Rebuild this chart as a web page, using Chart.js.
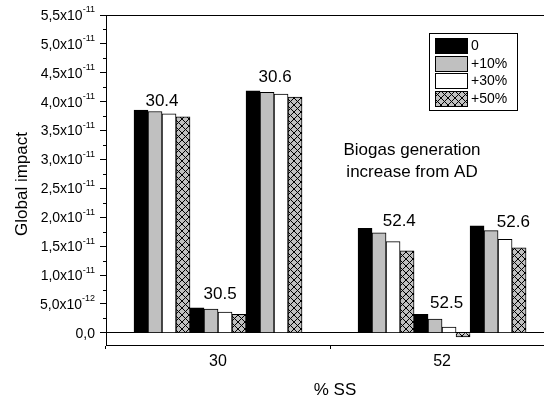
<!DOCTYPE html>
<html>
<head>
<meta charset="utf-8">
<script src="https://cdn.jsdelivr.net/npm/chart.js@4/dist/chart.umd.min.js"></script>
<style>
html,body{margin:0;padding:0;background:#fff;overflow:hidden;width:544px;height:399px;}
canvas{display:block;}
</style>
</head>
<body>
<canvas id="c" width="550" height="399"></canvas>
<script>
// ---- data ----
const groupNames = ['30.4', '30.5', '30.6', '52.4', '52.5', '52.6'];
const groupX = [24.5, 30, 35.5, 46.5, 52, 57.5];
const seriesNames = ['0', '+10%', '+30%', '+50%'];
const s0  = [3.856e-11, 0.433e-11, 4.19e-11, 1.81e-11, 0.32e-11, 1.85e-11];
const s10 = [3.83e-11, 0.41e-11, 4.16e-11, 1.73e-11, 0.24e-11, 1.77e-11];
const s30 = [3.79e-11, 0.36e-11, 4.13e-11, 1.58e-11, 0.10e-11, 1.62e-11];
const s50 = [3.74e-11, 0.32e-11, 4.08e-11, 1.42e-11, -0.07e-11, 1.47e-11];
const xTickValues = [30, 52];
const xTickLabels = ['30', '52'];
const yTickValues = [0, 5e-12, 1e-11, 1.5e-11, 2e-11, 2.5e-11, 3e-11, 3.5e-11, 4e-11, 4.5e-11, 5e-11, 5.5e-11];
const yTickBase = ['0,0', '5,0x10', '1,0x10', '1,5x10', '2,0x10', '2,5x10',
                   '3,0x10', '3,5x10', '4,0x10', '4,5x10', '5,0x10', '5,5x10'];
const yTickExp = ['', '-12', '-11', '-11', '-11', '-11', '-11', '-11', '-11', '-11', '-11', '-11'];
const noteLines = ['Biogas generation', 'increase from AD'];
const xTitle = '% SS';
const yTitle = 'Global impact';

// ---- annotation placement (data coordinates) ----
const groupLabelPos = [
  {x: 24.5, y: 4.011e-11}, {x: 30.2, y: 0.661e-11}, {x: 35.6, y: 4.418e-11},
  {x: 47.8, y: 1.934e-11}, {x: 52.45, y: 0.514e-11}, {x: 59.0, y: 1.908e-11}
];
const notePos = [{x: 49.05, y: 3.163e-11}, {x: 49.05, y: 2.782e-11}];

const FONT = "'Liberation Sans', Arial, Helvetica, sans-serif";

function makeHatch() {
  const n = 7;
  const c = document.createElement('canvas'); c.width = n; c.height = n;
  const g = c.getContext('2d');
  g.fillStyle = '#c0c0c0'; g.fillRect(0, 0, n, n);
  g.strokeStyle = '#000'; g.lineWidth = 1;
  g.beginPath();
  g.moveTo(0, 0); g.lineTo(n, n);
  g.moveTo(n, 0); g.lineTo(0, n);
  g.stroke();
  return g.createPattern(c, 'repeat');
}
const hatch = makeHatch();
const fills = ['#000000', '#c0c0c0', '#ffffff', hatch];
const seriesValues = [s0, s10, s30, s50];

const datasets = seriesNames.map((name, k) => ({
  label: name,
  data: groupX.map((x, i) => ({x: x, y: seriesValues[k][i]})),
  backgroundColor: fills[k],
  borderColor: '#000',
  borderWidth: 1,
  categoryPercentage: 1.0,
  barPercentage: 1.0
}));

const extras = {
  id: 'extras',
  afterDraw(chart) {
    const ctx = chart.ctx;
    const xs = chart.scales.x, ys = chart.scales.y;
    const a = chart.chartArea;
    ctx.save();
    ctx.strokeStyle = '#000';
    ctx.lineWidth = 1;
    // top frame line
    ctx.beginPath();
    ctx.moveTo(a.left, Math.round(a.top) + 0.5);
    ctx.lineTo(a.right, Math.round(a.top) + 0.5);
    ctx.stroke();
    // minor y ticks
    ctx.beginPath();
    for (let i = 0; i < yTickValues.length - 1; i++) {
      const v = (yTickValues[i] + yTickValues[i + 1]) / 2;
      const py = Math.round(ys.getPixelForValue(v)) + 0.5;
      ctx.moveTo(a.left - 3, py); ctx.lineTo(a.left, py);
    }
    ctx.stroke();
    ctx.fillStyle = '#000';
    // y tick labels with superscript exponents
    ctx.textBaseline = 'middle';
    yTickValues.forEach((v, i) => {
      const py = ys.getPixelForValue(v);
      const right = a.left - 11;
      ctx.font = '9px ' + FONT;
      const ew = yTickExp[i] ? ctx.measureText(yTickExp[i]).width : 0;
      ctx.textAlign = 'left';
      if (yTickExp[i]) ctx.fillText(yTickExp[i], right - ew, py - 5);
      ctx.font = '14px ' + FONT;
      ctx.textAlign = 'right';
      ctx.fillText(yTickBase[i], right - ew, py + 1);
    });
    // axis titles
    ctx.font = '17px ' + FONT;
    ctx.textAlign = 'center';
    ctx.fillText(xTitle, (a.left + 544) / 2 + 10, 390);
    ctx.save();
    ctx.translate(22, (a.top + a.bottom) / 2 + 4);
    ctx.rotate(-Math.PI / 2);
    ctx.fillText(yTitle, 0, 0);
    ctx.restore();
    // group labels
    ctx.font = '17px ' + FONT;
    ctx.textAlign = 'center';
    ctx.textBaseline = 'middle';
    groupNames.forEach((t, i) => {
      ctx.fillText(t, xs.getPixelForValue(groupLabelPos[i].x), ys.getPixelForValue(groupLabelPos[i].y));
    });
    // note text
    noteLines.forEach((t, i) => {
      ctx.fillText(t, xs.getPixelForValue(notePos[i].x), ys.getPixelForValue(notePos[i].y));
    });
    // legend
    const lx = 429, ly = a.top + 18;
    ctx.fillStyle = '#fff';
    ctx.fillRect(lx, ly, 88, 77);
    ctx.strokeRect(lx + 0.5, ly + 0.5, 88, 77);
    ctx.font = '14px ' + FONT;
    ctx.textAlign = 'left';
    chart.data.datasets.forEach((ds, k) => {
      const sy = Math.round(ly + 5 + k * 17.7);
      ctx.fillStyle = ds.backgroundColor;
      ctx.fillRect(lx + 6, sy, 32, 15);
      ctx.strokeRect(lx + 6.5, sy + 0.5, 32, 15);
      ctx.fillStyle = '#000';
      ctx.fillText(ds.label, lx + 42, sy + 8);
    });
    ctx.restore();
  }
};

new Chart(document.getElementById('c'), {
  type: 'bar',
  data: {datasets: datasets},
  options: {
    responsive: false,
    animation: false,
    devicePixelRatio: 1,
    layout: {padding: {left: 0, top: 15, right: 0, bottom: 0}},
    plugins: {legend: {display: false}, tooltip: {enabled: false}},
    scales: {
      x: {
        type: 'linear',
        min: 19,
        max: 62.6,
        offset: false,
        afterBuildTicks(s) { s.ticks = xTickValues.map(v => ({value: v})); },
        afterFit(s) { s.height = 54; },
        ticks: {
          autoSkip: false,
          color: '#000',
          font: {family: FONT, size: 16},
          padding: 3,
          callback(v) { const i = xTickValues.indexOf(v); return i >= 0 ? xTickLabels[i] : ''; }
        },
        grid: {display: true, drawOnChartArea: false, tickLength: 4, tickColor: '#000', color: '#000'},
        border: {display: true, color: '#000', width: 1},
        title: {display: false}
      },
      y: {
        type: 'linear',
        min: -2.1e-12,
        max: 5.5e-11,
        afterBuildTicks(s) { s.ticks = yTickValues.map(v => ({value: v})); },
        afterFit(s) { s.width = 106; },
        ticks: {display: false, autoSkip: false},
        grid: {
          display: true,
          drawOnChartArea: true,
          tickLength: 6,
          tickColor: '#000',
          color: c => (c.tick && c.tick.value === 0) ? '#000' : 'rgba(0,0,0,0)'
        },
        border: {display: true, color: '#000', width: 1},
        title: {display: false}
      }
    }
  },
  plugins: [extras]
});
</script>
</body>
</html>
